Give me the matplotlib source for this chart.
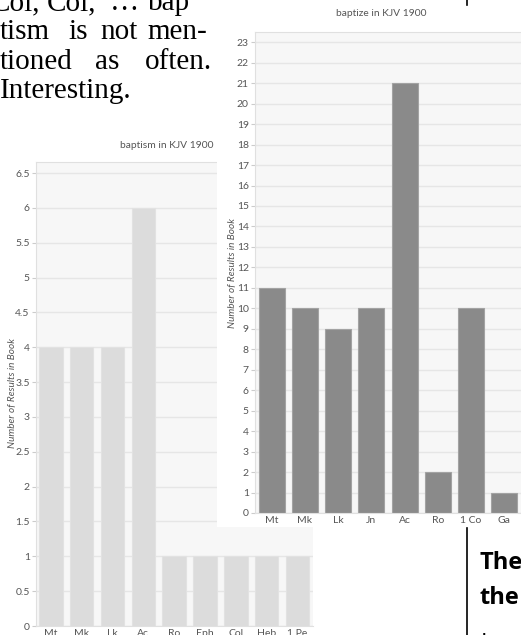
import matplotlib
matplotlib.use('Agg')
import matplotlib.pyplot as plt
from matplotlib.patches import Rectangle
from matplotlib.lines import Line2D

W, H = 521, 635

# left chart: baptism
books_baptism = ['Mt', 'Mk', 'Lk', 'Ac', 'Ro', 'Eph', 'Col', 'Heb', '1 Pe']
counts_baptism = [4, 4, 4, 6, 1, 1, 1, 1, 1]
ticks_baptism = [0, 0.5, 1, 1.5, 2, 2.5, 3, 3.5, 4, 4.5, 5, 5.5, 6, 6.5]
tick_labels_baptism = ['0', '0.5', '1', '1.5', '2', '2.5', '3', '3.5', '4', '4.5', '5', '5.5', '6', '6.5']

# right chart: baptize
books_baptize = ['Mt', 'Mk', 'Lk', 'Jn', 'Ac', 'Ro', '1 Co', 'Ga']
counts_baptize = [11, 10, 9, 10, 21, 2, 10, 1]
ticks_baptize = list(range(0, 24))

plt.rcParams['font.family'] = ['Lato', 'DejaVu Sans']

fig = plt.figure(figsize=(W / 100, H / 100), dpi=100)
fig.patch.set_facecolor('white')


def box(x0, y0, x1, y1):
    # pixel box -> figure coords
    return [x0 / W, 1 - y1 / H, (x1 - x0) / W, (y1 - y0) / H]


def style(ax):
    ax.set_facecolor('#f7f7f7')
    ax.grid(axis='y', color='#e6e6e6', lw=1)
    ax.set_axisbelow(True)
    for s in ['top', 'left', 'bottom']:
        ax.spines[s].set_color('#e0e0e0')
    ax.spines['right'].set_visible(False)
    ax.tick_params(axis='y', length=3, color='#cccccc', labelsize=7.5, labelcolor='#555555', pad=1.5)
    ax.tick_params(axis='x', length=0, labelsize=7.5, labelcolor='#555555', pad=2.5)


# --- left chart
ax1 = fig.add_axes(box(36, 162, 313, 626))
ax1.bar(range(len(books_baptism)), counts_baptism, width=0.76,
        color='#dcdcdc', edgecolor='#e2e2e2', lw=0.8)
ax1.set_xlim(-0.48, 8.5)
ax1.set_ylim(0, 6.66)
ax1.set_xticks(range(len(books_baptism)))
ax1.set_xticklabels(books_baptism)
ax1.set_yticks(ticks_baptism)
ax1.set_yticklabels(tick_labels_baptism)
style(ax1)
fig.text(167 / W, 1 - 145 / H, 'baptism in KJV 1900', ha='center', va='center',
         fontsize=7.4, color='#555555')
fig.text(13 / W, 1 - 393 / H, 'Number of Results in Book', rotation=90, ha='center',
         va='center', fontsize=7.2, style='italic', color='#555555')

# white card behind the second chart
fig.patches.append(Rectangle((217 / W, 1 - 527 / H), (W - 217) / W, 527 / H,
                             transform=fig.transFigure, facecolor='white',
                             edgecolor='none', zorder=1))

# --- right chart
ax2 = fig.add_axes(box(255, 32, 521, 513))
ax2.set_zorder(2)
ax2.bar(range(len(books_baptize)), counts_baptize, width=0.78,
        color='#8a8a8a', edgecolor='#a3a3a3', lw=0.8)
ax2.set_xlim(-0.5, 7.5)
ax2.set_ylim(0, 23.5)
ax2.set_xticks(range(len(books_baptize)))
ax2.set_xticklabels(books_baptize)
ax2.set_yticks(ticks_baptize)
style(ax2)
t1 = fig.text(381 / W, 1 - 14 / H, 'baptize in KJV 1900', ha='center', va='center',
              fontsize=7.4, color='#555555')
t2 = fig.text(233 / W, 1 - 273 / H, 'Number of Results in Book', rotation=90, ha='center',
              va='center', fontsize=7.2, style='italic', color='#555555')
t1.set_zorder(3)
t2.set_zorder(3)

# page text around the charts
serif = dict(fontsize=21, family=['Liberation Serif', 'DejaVu Serif'], va='baseline',
             ha='left', color='black')
lines = [
    (10, [(-9, 'Col,'), (47, 'Col,'), (110, '\u2026'), (148, 'bap')]),
    (39, [(0, 'tism'), (68, 'is'), (100, 'not'), (147, 'men-')]),
    (69, [(0, 'tioned'), (95, 'as'), (145, 'often.')]),
    (98, [(0, 'Interesting.')]),
]
for y, words in lines:
    for x, w in words:
        fig.text(x / W, 1 - y / H, w, **serif)

bold = dict(fontsize=17, family=['Open Sans', 'DejaVu Sans'], weight='bold',
            va='baseline', ha='left', color='black')
fig.text(479 / W, 1 - 569 / H, 'The', **bold)
fig.text(479 / W, 1 - 604 / H, 'the', **bold)
fig.text(481 / W, 1 - 650 / H, 'In', fontsize=17, family=['Open Sans', 'DejaVu Sans'],
         va='baseline', ha='left', color='black')

# column separator lines
fig.lines.append(Line2D([467 / W, 467 / W], [1 - 528 / H, 0], transform=fig.transFigure,
                        color='black', lw=1.2))
fig.lines.append(Line2D([467 / W, 467 / W], [1, 1 - 5 / H], transform=fig.transFigure,
                        color='black', lw=1.2))

fig.savefig('out.png', dpi=100)
